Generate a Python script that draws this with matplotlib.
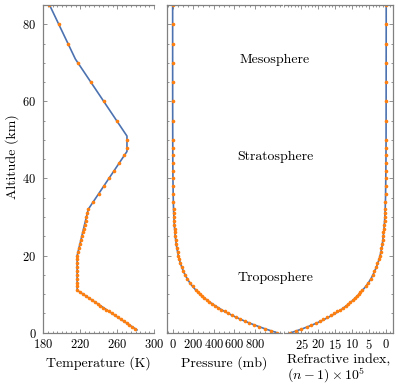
import matplotlib
matplotlib.use("Agg")
import matplotlib.pyplot as plt
from matplotlib.ticker import MultipleLocator, FixedLocator

plt.rcParams['font.family'] = 'serif'
plt.rcParams['font.serif'] = ['cmr10']
plt.rcParams['mathtext.fontset'] = 'cm'
plt.rcParams['axes.formatter.use_mathtext'] = True
plt.rcParams['font.size'] = 10

# model profiles (lines)
alt_T_line = [0.7, 11, 20, 32, 47, 51, 71, 85]
temp_line = [281.5, 216.65, 216.65, 228.65, 270.65, 270.65, 214.65, 186.7]

alt_line = [0, 1, 2, 3, 4, 5, 6, 7, 8, 9, 10, 11, 12, 13, 14, 15, 16, 17, 18, 19, 20,
            22, 24, 26, 28, 30, 32, 35, 40, 45, 50, 60, 70, 80, 85]
pres_line = [1013.3, 898.8, 795.0, 701.2, 616.6, 540.5, 472.2, 411.1, 356.5, 308.0, 265.0,
             227.0, 194.0, 165.8, 141.7, 121.1, 103.5, 88.5, 75.7, 64.7, 55.3,
             40.5, 29.7, 21.9, 16.2, 12.0, 8.9, 5.7, 2.9, 1.5, 0.8, 0.2, 0.05, 0.01, 0.004]
refr_line = [28.0, 24.7, 21.8, 19.2, 17.0, 15.0, 13.2, 11.7, 10.3, 9.1, 8.0,
             7.0, 6.0, 5.2, 4.5, 3.9, 3.4, 2.9, 2.5, 2.1, 1.8,
             1.3, 1.0, 0.75, 0.55, 0.4, 0.3, 0.2, 0.12, 0.07, 0.04, 0.02, 0.01, 0.0, 0.0]

# tabulated values (dots)
alt_T_pts = [1, 1.5, 2, 2.5, 3, 3.5, 4, 4.5, 5, 5.5, 6, 6.5, 7, 7.5, 8, 8.5, 9, 9.5,
             10, 10.5, 11, 12, 13, 14, 15, 16, 17, 18, 19, 20, 21, 22, 23, 24, 25, 26, 27,
             28, 29, 30, 31, 32, 34, 36, 38, 40, 42, 44, 46, 48, 50, 55, 60, 65, 70, 75, 80, 85]
temp_pts = [279.6, 276.5, 273.3, 270.2, 267.0, 263.9, 260.7, 257.6, 254.4, 251.3, 248.1,
            245.0, 241.8, 238.7, 235.5, 232.4, 229.2, 226.1, 222.9, 219.8,
            216.7, 216.7, 216.7, 216.7, 216.7, 216.7, 216.7, 216.7, 216.7, 216.7, 217.7,
            218.7, 219.7, 220.7, 221.7, 222.7, 223.7, 224.7, 225.7, 226.7, 227.7, 228.7,
            234.3, 239.9, 245.5, 251.1, 256.7, 262.3, 267.9, 270.7, 270.7, 259.5, 245.5,
            231.5, 217.5, 206.6, 196.6, 186.6]

alt_pts = [0, 0.5, 1, 1.5, 2, 2.5, 3, 3.5, 4, 4.5, 5, 5.5, 6, 6.5, 7, 7.5, 8, 8.5, 9, 9.5,
           10, 10.5, 11, 12, 13, 14, 15, 16, 17, 18, 19, 20, 21, 22, 23, 24, 25, 26, 27,
           28, 29, 30, 31, 32, 34, 36, 38, 40, 42, 44, 46, 48, 50, 55, 60, 65, 70, 75, 80, 85]
pres_pts = [1013.3, 954.6, 898.8, 845.6, 795.0, 746.9, 701.2, 657.8, 616.6, 577.5, 540.5,
            505.4, 472.2, 440.8, 411.1, 383.0, 356.5, 331.5, 308.0, 285.8, 265.0, 245.4,
            227.0, 194.0, 165.8, 141.7, 121.1, 103.5, 88.5, 75.6, 64.7, 55.3, 47.3, 40.5,
            34.7, 29.7, 25.5, 21.9, 18.8, 16.2, 13.9, 12.0, 10.3, 8.9, 6.6, 5.0, 3.8, 2.9,
            2.2, 1.7, 1.3, 1.0, 0.8, 0.43, 0.22, 0.11, 0.05, 0.02, 0.01, 0.004]
refr_pts = [28.3, 26.6, 25.0, 23.5, 22.1, 20.8, 19.6, 18.5, 17.4, 16.4, 15.4,
            14.5, 13.6, 12.8, 12.0, 11.3, 10.6, 9.9, 9.3, 8.7, 8.1, 7.6,
            7.1, 6.1, 5.3, 4.6, 4.0, 3.5, 3.0, 2.6, 2.2, 1.9, 1.6, 1.4,
            1.2, 1.0, 0.9, 0.8, 0.7, 0.6, 0.5, 0.45, 0.4, 0.35, 0.25, 0.2, 0.15, 0.1,
            0.08, 0.06, 0.05, 0.04, 0.03, 0.02, 0.01, 0.0, 0.0, 0.0, 0.0, 0.0]

temp_ticks = [180, 220, 260, 300]
pres_ticks = [0, 200, 400, 600, 800]
refr_ticks = [25, 20, 15, 10, 5, 0]

line_c = '#4c72b0'
dot_c = '#ff7f0e'
spine_c = '0.5'

fig = plt.figure(figsize=(3.98, 3.85), dpi=100)
bottom, top = 0.136, 0.987
ax1 = fig.add_axes([0.109, bottom, 0.278, top - bottom])
ax2 = fig.add_axes([0.4196, bottom, 0.289, top - bottom])
ax3 = fig.add_axes([0.7148, bottom, 0.2726, top - bottom])

ax1.plot(temp_line, alt_T_line, color=line_c, lw=1.2)
ax1.plot(temp_pts, alt_T_pts, 'o', color=dot_c, ms=2.6, mew=0)
ax2.plot(pres_line, alt_line, color=line_c, lw=1.2)
ax2.plot(pres_pts, alt_pts, 'o', color=dot_c, ms=2.6, mew=0)
ax3.plot(refr_line, alt_line, color=line_c, lw=1.2)
ax3.plot(refr_pts, alt_pts, 'o', color=dot_c, ms=2.6, mew=0)

ax1.set_xlim(180, 300)
ax2.set_xlim(-55, 1065)
ax3.set_xlim(30, -2)
for ax in (ax1, ax2, ax3):
    ax.set_ylim(0, 85)
    ax.yaxis.set_major_locator(MultipleLocator(20))
    ax.yaxis.set_minor_locator(MultipleLocator(5))
    for s in ax.spines.values():
        s.set_color(spine_c)
        s.set_linewidth(0.9)
    ax.tick_params(which='both', direction='in', top=True, color=spine_c, width=0.6,
                   labelcolor='black', labelsize=9)
    ax.tick_params(which='major', length=3)
    ax.tick_params(which='minor', length=1.5)

ax1.xaxis.set_major_locator(FixedLocator(temp_ticks))
ax1.xaxis.set_minor_locator(MultipleLocator(5))
ax2.xaxis.set_major_locator(FixedLocator(pres_ticks))
ax2.xaxis.set_minor_locator(MultipleLocator(50))
ax3.xaxis.set_major_locator(FixedLocator(refr_ticks))
ax3.xaxis.set_minor_locator(MultipleLocator(1))

ax1.spines['right'].set_visible(False)
ax1.tick_params(which='both', right=False)
ax1.tick_params(axis='y', pad=5)
ax2.spines['right'].set_visible(False)
ax2.tick_params(which='both', right=False, labelleft=False)
ax3.spines['left'].set_visible(False)
ax3.tick_params(which='both', left=False, labelleft=False, right=True)

ax1.set_ylabel('Altitude (km)')
ax1.yaxis.set_label_coords(-0.22, 0.537)
ax1.set_xlabel('Temperature (K)', labelpad=4)
ax2.set_xlabel('Pressure (mb)', labelpad=4)
ax3.set_xlabel('Refractive index,\n$(n-1)\\times10^5$', multialignment='left',
               labelpad=2, linespacing=0.95)

fig.text(0.691, 0.844, 'Mesosphere', ha='center', va='center')
fig.text(0.691, 0.592, 'Stratosphere', ha='center', va='center')
fig.text(0.691, 0.278, 'Troposphere', ha='center', va='center')

fig.savefig('out.png', dpi=100)
